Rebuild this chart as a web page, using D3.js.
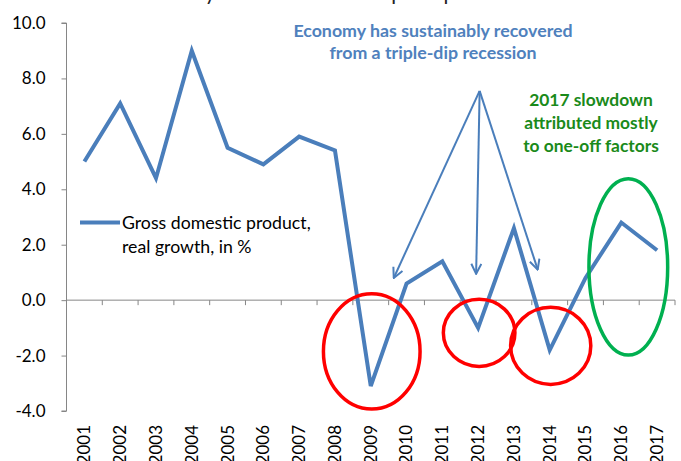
<!DOCTYPE html>
<html>
<head>
<meta charset="utf-8">
<script src="https://cdn.jsdelivr.net/npm/d3@7"></script>
<style>
  html, body { margin: 0; padding: 0; background: #fff; }
  svg { display: block; }
  text { font-family: Lato, "Open Sans", sans-serif; }
</style>
</head>
<body>
<svg id="chart" width="681" height="461"></svg>
<script>
// Serbia, GDP real growth (%)
const years = ["2001","2002","2003","2004","2005","2006","2007","2008","2009",
               "2010","2011","2012","2013","2014","2015","2016","2017"];
const gdpGrowth = [5.0, 7.1, 4.4, 9.0, 5.5, 4.9, 5.9, 5.4, -3.1,
                   0.6, 1.4, -1.0, 2.6, -1.8, 0.8, 2.8, 1.8];
const yTicks = [-4, -2, 0, 2, 4, 6, 8, 10];
const seriesLabel = ["Gross domestic product,", "real growth, in %"];
const titleText = "Serbian economy came out of the triple-dip recession in 2015";
const recoveryNote = ["Economy has sustainably recovered", "from a triple-dip recession"];
const slowdownNote = ["2017 slowdown", "attributed mostly", "to one-off factors"];
// recession dips and the 2016-17 period highlighted with ellipses (year, value, half-width in bands, half-height in %)
const recessionRings = [
  {year: "2009", value: -1.85, rx: 1.35, ry: 2.08},
  {year: "2012", value: -1.18, rx: 1.0, ry: 1.21},
  {year: "2014", value: -1.65, rx: 1.12, ry: 1.39}
];
const slowdownRing = {year: "2016", value: 1.2, rx: 1.1, ry: 3.18};
// arrows fan out from one point above the chart to the three dips
const arrowFrom = {year: "2012", value: 7.55};
const arrowTo = [{year: "2009", value: 0.8}, {year: "2012", value: 0.95}, {year: "2014", value: 1.1}];

const svg = d3.select("#chart");
const blue = "#4a7ebb";
const axisGrey = "#868686";

const x = d3.scaleBand().domain(years).range([66.5, 675]).padding(0);
const y = d3.scaleLinear().domain([-4, 10]).range([411, 23]);
const cx = yr => x(yr) + x.bandwidth() / 2;

// title, running off the top edge
svg.append("text")
  .attr("x", 340).attr("y", -0.5)
  .attr("text-anchor", "middle")
  .attr("font-size", 21)
  .attr("fill", "#222")
  .text(titleText);

// y axis
const yAxis = d3.axisLeft(y).tickValues(yTicks).tickSize(5).tickFormat(d3.format(".1f"));
const gy = svg.append("g").attr("transform", "translate(66.5,0)").call(yAxis);
gy.select(".domain").attr("stroke", axisGrey).attr("d", `M-5,${y(10)}H0V${y(-4)}H-5`);
gy.selectAll(".tick line").attr("stroke", axisGrey);
gy.selectAll(".tick text")
  .attr("x", -21)
  .attr("font-size", 17)
  .attr("fill", "#000")
  .style("font-family", "Lato, sans-serif")
  .text(d => d.toFixed(1));

// category axis along zero with ticks between years
const gx = svg.append("g");
gx.append("line")
  .attr("x1", x.range()[0]).attr("x2", x.range()[1])
  .attr("y1", y(0)).attr("y2", y(0))
  .attr("stroke", axisGrey).attr("stroke-width", 1);
gx.selectAll("line.sep")
  .data(years.slice(1).concat(["end"]))
  .enter().append("line")
  .attr("class", "sep")
  .attr("x1", (d, i) => x.range()[0] + (i + 1) * x.step())
  .attr("x2", (d, i) => x.range()[0] + (i + 1) * x.step())
  .attr("y1", y(0)).attr("y2", y(0) + 5)
  .attr("stroke", axisGrey);

// year labels, rotated
svg.append("g").selectAll("text")
  .data(years)
  .enter().append("text")
  .attr("transform", d => `translate(${cx(d)},425) rotate(-90)`)
  .attr("text-anchor", "end")
  .attr("dy", "0.35em")
  .attr("font-size", 17)
  .attr("fill", "#000")
  .text(d => d);

// GDP line
const line = d3.line().x((d, i) => cx(years[i])).y(d => y(d));
svg.append("path")
  .datum(gdpGrowth)
  .attr("d", line)
  .attr("fill", "none")
  .attr("stroke", blue)
  .attr("stroke-width", 4)
  .attr("stroke-linejoin", "miter");

// legend
svg.append("line")
  .attr("x1", 80).attr("x2", 120).attr("y1", 222.5).attr("y2", 222.5)
  .attr("stroke", blue).attr("stroke-width", 4);
svg.append("text")
  .attr("font-size", 17.7).attr("fill", "#000")
  .selectAll("tspan").data(seriesLabel).enter().append("tspan")
  .attr("x", 122).attr("y", (d, i) => 228.5 + i * 24)
  .text(d => d);

// annotation: recovery note and arrows
svg.append("text")
  .attr("text-anchor", "middle")
  .attr("font-size", 17.8).attr("font-weight", "bold")
  .attr("fill", "#4f81bd")
  .selectAll("tspan").data(recoveryNote).enter().append("tspan")
  .attr("x", 433).attr("y", (d, i) => 37 + i * 21.5)
  .text(d => d);

svg.append("defs").append("marker")
  .attr("id", "openArrow")
  .attr("viewBox", "0 0 12 12")
  .attr("refX", 11).attr("refY", 6)
  .attr("markerWidth", 12).attr("markerHeight", 12)
  .attr("markerUnits", "userSpaceOnUse")
  .attr("orient", "auto")
  .append("path")
  .attr("d", "M1,1 L11,6 L1,11")
  .attr("fill", "none").attr("stroke", blue).attr("stroke-width", 2);

svg.append("g").selectAll("line")
  .data(arrowTo)
  .enter().append("line")
  .attr("x1", cx(arrowFrom.year) + 1.5).attr("y1", y(arrowFrom.value))
  .attr("x2", (d, i) => cx(d.year) + [23, -2, -12][i])
  .attr("y2", d => y(d.value))
  .attr("stroke", blue).attr("stroke-width", 2)
  .attr("marker-end", "url(#openArrow)");

// annotation: slowdown note
svg.append("text")
  .attr("text-anchor", "middle")
  .attr("font-size", 17.4).attr("font-weight", "bold")
  .attr("fill", "#1a8a1a")
  .selectAll("tspan").data(slowdownNote).enter().append("tspan")
  .attr("x", 591).attr("y", (d, i) => 106 + i * 23)
  .text(d => d);

// highlight rings
svg.append("g").selectAll("ellipse")
  .data(recessionRings)
  .enter().append("ellipse")
  .attr("cx", d => cx(d.year) + 1)
  .attr("cy", d => y(d.value))
  .attr("rx", d => d.rx * x.step())
  .attr("ry", d => y(0) - y(d.ry))
  .attr("fill", "none").attr("stroke", "#ff0000").attr("stroke-width", 3.5);

svg.append("ellipse")
  .attr("cx", cx(slowdownRing.year) + 7)
  .attr("cy", y(slowdownRing.value))
  .attr("rx", slowdownRing.rx * x.step())
  .attr("ry", y(0) - y(slowdownRing.ry))
  .attr("fill", "none").attr("stroke", "#00b050").attr("stroke-width", 3.5);
</script>
</body>
</html>
